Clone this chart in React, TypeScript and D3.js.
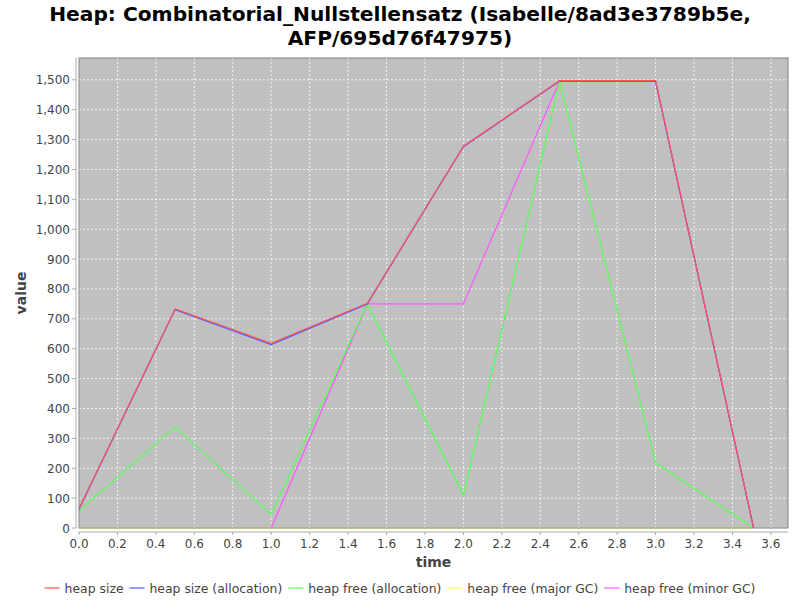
import React, { useEffect, useRef } from "react";
import * as d3 from "d3";

const titleLines = ["Heap: Combinatorial_Nullstellensatz (Isabelle/8ad3e3789b5e,", "AFP/695d76f47975)"];
const seriesNames = ["heap size", "heap size (allocation)", "heap free (allocation)", "heap free (major GC)", "heap free (minor GC)"];
const seriesColors = ["#ff5555", "#5555ff", "#55ff55", "#ffff55", "#ff55ff"];

const heapSizeX = [0.0, 0.5, 1.0, 1.5, 2.0, 2.5, 3.0, 3.51];
const heapSizeY = [65, 733, 618, 752, 1278, 1497, 1497, 0];
const heapSizeAllocX = [0.0, 0.5, 1.0, 1.5, 2.0, 2.5, 3.0, 3.51];
const heapSizeAllocY = [63, 731, 614, 750, 1276, 1495, 1495, 0];
const heapFreeAllocX = [0.0, 0.5, 1.0, 1.5, 2.0, 2.5, 3.0, 3.51];
const heapFreeAllocY = [58, 338, 45, 750, 110, 1495, 218, 0];
const heapFreeMajorX = [0.0, 3.51];
const heapFreeMajorY = [0, 0];
const heapFreeMinorX = [1.0, 1.5, 2.0, 2.5, 3.0, 3.51];
const heapFreeMinorY = [0, 750, 750, 1495, 1495, 0];

const xTicks = [0, 0.2, 0.4, 0.6, 0.8, 1.0, 1.2, 1.4, 1.6, 1.8, 2.0, 2.2, 2.4, 2.6, 2.8, 3.0, 3.2, 3.4, 3.6];
const yTicks = [0, 100, 200, 300, 400, 500, 600, 700, 800, 900, 1000, 1100, 1200, 1300, 1400, 1500];

const W = 800, H = 600;
const L = 79, T = 58, R = 788, B = 528;

export default function App() {
  const ref = useRef<SVGSVGElement>(null);
  useEffect(() => {
    const svg = d3.select(ref.current);
    svg.selectAll("*").remove();
    const x = d3.scaleLinear().domain([0, 3.689]).range([L, R]);
    const y = d3.scaleLinear().domain([0, 1573]).range([B, T]);
    const font = "'DejaVu Sans', sans-serif";

    svg.append("rect").attr("width", W).attr("height", H).attr("fill", "#ffffff");

    const tg = svg.append("g");
    titleLines.forEach((t, i) => {
      tg.append("text").attr("x", W / 2).attr("y", 21 + i * 24).attr("text-anchor", "middle")
        .attr("font-family", font).attr("font-weight", "bold")
        .attr("font-size", 20.2).attr("fill", "#000").text(t);
    });

    svg.append("rect").attr("x", L).attr("y", T).attr("width", R - L).attr("height", B - T).attr("fill", "#c0c0c0");

    const grid = svg.append("g").attr("stroke", "#ffffff").attr("stroke-width", 0.8).attr("stroke-dasharray", "2,2");
    xTicks.forEach(v => grid.append("line").attr("x1", x(v)).attr("x2", x(v)).attr("y1", T).attr("y2", B));
    yTicks.forEach(v => grid.append("line").attr("x1", L).attr("x2", R).attr("y1", y(v)).attr("y2", y(v)));

    const fmt = d3.format(",");
    const ax = svg.append("g");
    ax.append("line").attr("x1", L).attr("x2", R).attr("y1", B + 4).attr("y2", B + 4).attr("stroke", "#aaaaaa");
    ax.append("line").attr("x1", L - 3).attr("x2", L - 3).attr("y1", T).attr("y2", B).attr("stroke", "#aaaaaa");
    xTicks.forEach(v => {
      ax.append("line").attr("x1", x(v)).attr("x2", x(v)).attr("y1", B + 4).attr("y2", B + 7).attr("stroke", "#aaaaaa");
      ax.append("text").attr("x", x(v)).attr("y", B + 20).attr("text-anchor", "middle").attr("font-family", font)
        .attr("font-size", 12).attr("fill", "#444444").text(d3.format(".1f")(v));
    });
    yTicks.forEach(v => {
      ax.append("line").attr("x1", L - 7).attr("x2", L - 3).attr("y1", y(v)).attr("y2", y(v)).attr("stroke", "#aaaaaa");
      ax.append("text").attr("x", L - 9).attr("y", y(v) + 4.5).attr("text-anchor", "end").attr("font-family", font)
        .attr("font-size", 12).attr("fill", "#444444").text(fmt(v));
    });
    ax.append("text").attr("x", (L + R) / 2).attr("y", 567).attr("text-anchor", "middle").attr("font-family", font)
      .attr("font-weight", "bold").attr("font-size", 14).attr("fill", "#444444").text("time");
    ax.append("text").attr("transform", `translate(26,${(T + B) / 2}) rotate(-90)`).attr("text-anchor", "middle")
      .attr("font-family", font).attr("font-weight", "bold").attr("font-size", 14).attr("fill", "#444444").text("value");

    const series = [
      [heapSizeX, heapSizeY],
      [heapSizeAllocX, heapSizeAllocY],
      [heapFreeAllocX, heapFreeAllocY],
      [heapFreeMajorX, heapFreeMajorY],
      [heapFreeMinorX, heapFreeMinorY],
    ];
    const line = d3.line<[number, number]>().x(d => x(d[0])).y(d => y(d[1]));
    const lg = svg.append("g");
    for (let i = series.length - 1; i >= 0; i--) {
      const [xs, ys] = series[i];
      const pts = xs.map((v, j) => [v, ys[j]] as [number, number]);
      lg.append("path").attr("d", line(pts)).attr("fill", "none").attr("stroke", seriesColors[i]).attr("stroke-width", 1.2);
    }

    svg.append("rect").attr("x", L).attr("y", T).attr("width", R - L).attr("height", B - T)
      .attr("fill", "none").attr("stroke", "#808080").attr("stroke-width", 1);

    // legend
    const leg = svg.append("g");
    const items: { g: any; w: number }[] = [];
    seriesNames.forEach((n, i) => {
      const g = leg.append("g");
      g.append("line").attr("x1", 0).attr("x2", 15).attr("y1", 0).attr("y2", 0).attr("stroke", seriesColors[i]).attr("stroke-width", 1.2);
      const t = g.append("text").attr("x", 20).attr("y", 4.5).attr("font-family", font).attr("font-size", 12.4)
        .attr("fill", "#444444").text(n);
      const tw = (t.node() as SVGTextElement).getComputedTextLength();
      items.push({ g, w: 20 + tw });
    });
    const gap = 6;
    const total = items.reduce((s, it) => s + it.w, 0) + gap * (items.length - 1);
    let cx = W / 2 - total / 2;
    items.forEach(it => {
      it.g.attr("transform", `translate(${cx},588)`);
      cx += it.w + gap;
    });
  }, []);
  return <svg ref={ref} width={W} height={H} style={{ display: "block", position: "absolute", left: 0, top: 0 }} />;
}
